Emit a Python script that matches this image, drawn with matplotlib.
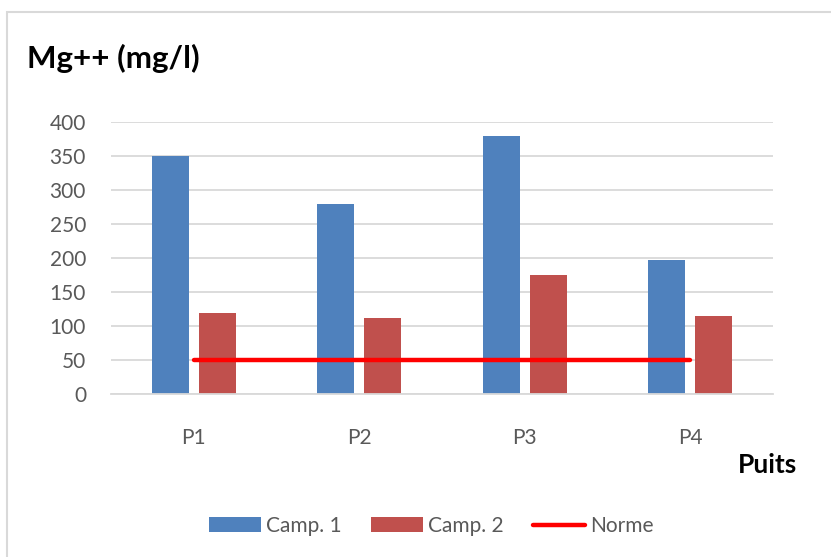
import matplotlib
matplotlib.use('Agg')
import numpy as np
import matplotlib.pyplot as plt
from matplotlib.patches import Rectangle

# data
puits = ['P1', 'P2', 'P3', 'P4']
camp1 = [350, 280, 380, 198]
camp2 = [120, 112, 175, 115]
norme = [50, 50, 50, 50]
y_ticks = [0, 50, 100, 150, 200, 250, 300, 350, 400]

blue = '#4F81BD'
red = '#C0504D'
grey_txt = '#595959'
grid_col = '#D9D9D9'

plt.rcParams['font.family'] = ['Lato', 'DejaVu Sans']

fig = plt.figure(figsize=(8.31, 5.57), dpi=100)
W, H = 831, 557

# chart frame
fig.patches.append(Rectangle((7 / W, -0.1), 1.2, 1 - 12 / H + 0.1, transform=fig.transFigure,
                             facecolor='none', edgecolor='#D9D9D9', linewidth=1.5))

ax = fig.add_axes([111 / W, 1 - 394.3 / H, (773 - 111) / W, (394.3 - 122) / H])

x = np.arange(len(puits))
bw = 0.224
off = 0.142
b1 = ax.bar(x - off, camp1, width=bw, color=blue, label='Camp. 1', zorder=2)
b2 = ax.bar(x + off, camp2, width=bw, color=red, label='Camp. 2', zorder=2)
ln, = ax.plot(x, norme, color='#FF0000', linewidth=3.2, solid_capstyle='round', label='Norme', zorder=3)

ax.set_xlim(-0.5, 3.5)
ax.set_ylim(0, 400)
ax.set_yticks(y_ticks)
ax.set_xticks(x)
ax.set_xticklabels(puits)
ax.yaxis.grid(True, color=grid_col, linewidth=1.3, zorder=0)
ax.set_axisbelow(True)
for side in ['top', 'right', 'left']:
    ax.spines[side].set_visible(False)
ax.spines['bottom'].set_color(grid_col)
ax.spines['bottom'].set_linewidth(1.3)
ax.tick_params(axis='both', length=0, labelsize=15, labelcolor=grey_txt)
ax.tick_params(axis='y', pad=18)
ax.tick_params(axis='x', pad=24)

fig.text(27 / W, 1 - 58 / H, 'Mg++ (mg/l)', fontsize=22.5, fontweight='bold', va='center', ha='left')
fig.text(797 / W, 1 - 465 / H, 'Puits', fontsize=19, fontweight='bold', va='center', ha='right')

fig.legend(handles=[b1, b2, ln], loc='center', bbox_to_anchor=(431 / W, 1 - 526 / H), ncol=3,
           frameon=False, fontsize=15, labelcolor=grey_txt, handlelength=2.5, handleheight=0.75,
           handletextpad=0.25, columnspacing=1.4)

fig.savefig('out.png', dpi=100)
